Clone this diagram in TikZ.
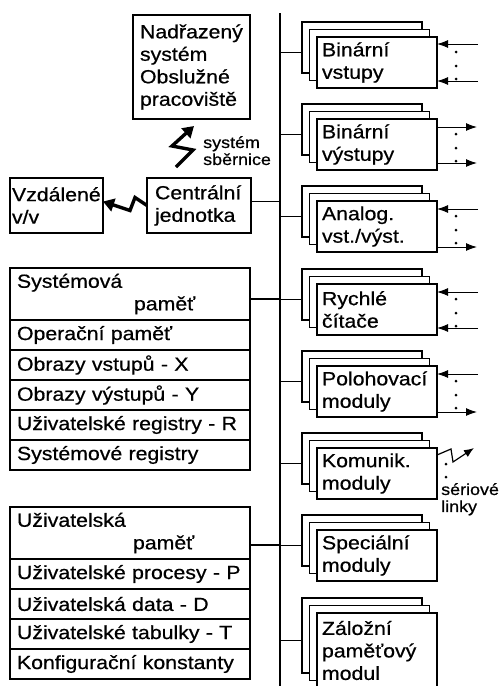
\documentclass[tikz,border=0pt]{standalone}
\usepackage{fontspec}
\setmainfont{Liberation Sans}[FakeStretch=1.12,FakeBold=0.6]
\usetikzlibrary{positioning,calc,arrows.meta}
\newcommand{\velky}{\fontsize{19}{22.5}\selectfont}
\newcommand{\maly}{\fontsize{16}{17}\selectfont}
\tikzset{
  blok/.style={draw, fill=white, line width=1.2pt, anchor=north west, outer sep=0pt,
    inner ysep=2pt, align=left, font=\velky},
  pamet/.style={blok, minimum width=240, text width=226, inner xsep=7, minimum height=30, inner ysep=0pt},
  pamethlava/.style={pamet, minimum height=52},
  modul/.style={blok, minimum width=120, text width=110, inner xsep=5},
  spoj/.style={line width=1.2pt},
  bus/.style={line width=2pt},
  signal/.style={line width=1pt, -{Latex[length=11pt,width=8pt]}},
  blesk/.style={line width=3.4pt, line join=miter, -{Triangle[length=11pt,width=13pt]}},
  serial/.style={line width=1.2pt, -{Latex[length=10pt,width=8pt]}},
  popis/.style={anchor=north west, inner sep=0pt, align=left, font=\maly},
}
\newcommand{\modul}[4]{%
  \node[modul, minimum height=#3] (#1c) at (302,#2-15) {};
  \node[modul, minimum height=#3] (#1b) at (309.5,#2-7.5) {};
  \node[modul, minimum height=#3] (#1) at (317,#2) {#4};
  \coordinate (#1l) at ($(#1c.west)+(0,5)$);
  \draw[spoj] (#1l) -- (#1l -| sbernice);
}
\newcommand{\vstup}[2]{\draw[signal] ($(#1.north east)+(41,#2)$) -- ($(#1.north east)+(0,#2)$);}
\newcommand{\vystup}[2]{\draw[signal] ($(#1.north east)+(0,#2)$) -- ($(#1.north east)+(40,#2)$);}
\newcommand{\tecky}[1]{\foreach \d in {15,29,42} \fill ($(#1.north east)+(19,\d)$) circle (1.5pt);}

\begin{document}
\begin{tikzpicture}[x=1pt,y=-1pt]
\useasboundingbox (0,0) rectangle (501,686);
\coordinate (sbernice) at (280,13);
\coordinate (sbernicekonec) at (280,686);
\draw[bus] (sbernice) -- (sbernicekonec);

\node[blok, minimum width=117, minimum height=104, text width=103, inner xsep=7] (nadr) at (133,15)
  {Nadřazený\\systém\\Obslužné\\pracoviště};
\node[blok, minimum width=104, minimum height=55, text width=88, inner xsep=8] (centr) at (147,178)
  {Centrální\\jednotka};
\node[blok, minimum width=93, minimum height=55, text width=89, inner xsep=2] (vzdal) at (10,178)
  {Vzdálené\\v/v};
\coordinate (centrl) at ($(centr.east)+(0,-4)$);
\draw[spoj] (centrl) -- (centrl -| sbernice);
\draw[blesk] (176,167) -- (193,150) -- (172,146) -- (194,126);
\node[popis] (sbl) at (203,136) {systém\\sběrnice};
\draw[blesk] (centr.west) -- ++(-12,-8) -- ++(-5,13) -- ($(vzdal.east)+(0,-4)$);

\node[pamethlava] (sysmem) at (10,268) {Systémová\\\hspace*{117pt}paměť};
\node[pamet, below=0pt of sysmem] (oper) {Operační paměť};
\node[pamet, below=0pt of oper] (obrx) {Obrazy vstupů - X};
\node[pamet, below=0pt of obrx] (obry) {Obrazy výstupů - Y};
\node[pamet, below=0pt of obry] (regr) {Uživatelské registry - R};
\node[pamet, below=0pt of regr] (sysreg) {Systémové registry};
\coordinate (sysl) at ($(sysmem.east)+(0,5)$);
\draw[spoj] (sysl) -- (sysl -| sbernice);

\node[pamethlava] (usrmem) at (10,507) {Uživatelská\\\hspace*{116pt}paměť};
\node[pamet, below=0pt of usrmem] (procp) {Uživatelské procesy - P};
\node[pamet, below=0pt of procp] (datad) {Uživatelská data - D};
\node[pamet, below=0pt of datad] (tabt) {Uživatelské tabulky - T};
\node[pamet, below=0pt of tabt] (konf) {Konfigurační konstanty};
\coordinate (usrl) at ($(usrmem.east)+(0,12)$);
\draw[spoj] (usrl) -- (usrl -| sbernice);

\modul{binvst}{37}{51}{Binární\\vstupy}
\modul{binvyst}{119}{51}{Binární\\výstupy}
\modul{analog}{201}{51}{Analog.\\vst./výst.}
\modul{citace}{284}{51}{Rychlé\\čítače}
\modul{polohy}{366}{51}{Polohovací\\moduly}
\modul{kom}{448}{51}{Komunik.\\moduly}
\modul{spec}{530}{51}{Speciální\\moduly}
\modul{zaloha}{613}{75}{Záložní\\paměťový\\modul}

\vstup{binvst}{7} \vstup{binvst}{44} \tecky{binvst}
\vystup{binvyst}{8} \vystup{binvyst}{44} \tecky{binvyst}
\vstup{analog}{8} \vystup{analog}{46} \tecky{analog}
\vstup{citace}{8} \vstup{citace}{44} \tecky{citace}
\vstup{polohy}{8} \vystup{polohy}{46} \tecky{polohy}

\draw[serial] ($(kom.north east)+(0,7)$) -- ++(14,-6) -- ++(2,13) -- ++(21,-14);
\fill ($(kom.north east)+(9,16)$) circle (1.5pt);
\fill ($(kom.north east)+(9,29)$) circle (1.5pt);
\node[popis] (linky) at (441,483) {sériové\\linky};
\end{tikzpicture}
\end{document}
